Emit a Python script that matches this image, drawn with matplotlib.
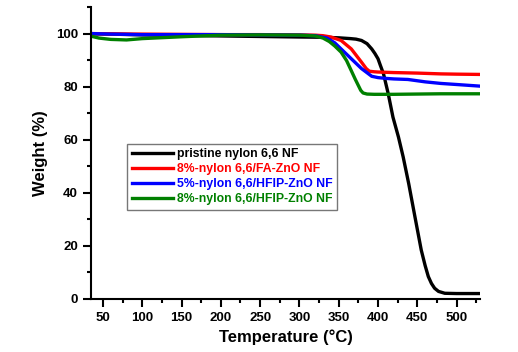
import matplotlib.pyplot as plt
from matplotlib.ticker import MultipleLocator
import numpy as np

# TGA curves (temperature in C, weight in %)
t_pristine = [35, 60, 100, 150, 200, 250, 300, 330, 350, 365, 372, 379, 386, 392, 396, 400, 403, 407, 413, 419, 426, 432, 439, 447, 455, 460, 464, 468, 472, 477, 485, 500, 529]
w_pristine = [99.9, 99.8, 99.5, 99.3, 99.1, 98.9, 98.7, 98.6, 98.4, 98.1, 97.9, 97.4, 96.2, 94.2, 92.5, 90.5, 88.0, 84.8, 77.3, 68.5, 61.0, 53.5, 43.5, 30.9, 18.4, 12.5, 8.4, 5.8, 4.0, 2.8, 2.1, 2.0, 2.0]

t_fa = [35, 60, 100, 150, 200, 250, 300, 320, 330, 340, 353, 366, 379, 385, 389, 395, 400, 420, 450, 480, 500, 529]
w_fa = [100, 99.9, 99.8, 99.7, 99.6, 99.6, 99.5, 99.4, 99.2, 98.7, 97.4, 94.2, 89.2, 86.8, 85.8, 85.6, 85.5, 85.3, 85.1, 84.8, 84.7, 84.6]

t_hfip5 = [35, 60, 100, 150, 200, 250, 300, 320, 335, 345, 353, 366, 379, 392, 400, 410, 420, 438, 460, 480, 500, 529]
w_hfip5 = [100, 99.8, 99.6, 99.6, 99.6, 99.5, 99.4, 99.2, 98.3, 96.5, 94.2, 90.5, 86.8, 83.9, 83.4, 83.1, 82.9, 82.7, 81.8, 81.2, 80.8, 80.2]

t_hfip8 = [35, 45, 60, 80, 100, 150, 200, 250, 300, 320, 330, 338, 345, 353, 360, 366, 371, 375, 378, 381, 386, 395, 420, 450, 480, 500, 529]
w_hfip8 = [99.0, 98.3, 97.8, 97.6, 98.1, 98.8, 99.4, 99.5, 99.4, 99.1, 98.3, 97.0, 95.3, 93.0, 89.8, 86.0, 82.8, 80.4, 78.6, 77.6, 77.2, 77.1, 77.1, 77.2, 77.3, 77.3, 77.3]

labels = ['pristine nylon 6,6 NF', '8%-nylon 6,6/FA-ZnO NF',
          '5%-nylon 6,6/HFIP-ZnO NF', '8%-nylon 6,6/HFIP-ZnO NF']
colors = ['black', '#ff0000', '#0000ff', '#008000']

plt.rcParams['font.family'] = ['Liberation Sans', 'DejaVu Sans']
plt.rcParams['font.weight'] = 'bold'

fig = plt.figure(figsize=(5.18, 3.52), dpi=100)
ax = fig.add_axes([0.176, 0.151, 0.751, 0.829])

series = [(t_pristine, w_pristine), (t_fa, w_fa), (t_hfip5, w_hfip5), (t_hfip8, w_hfip8)]
for (t, w), lab, c in zip(series, labels, colors):
    ax.plot(t, w, color=c, lw=2.4, label=lab)

ax.set_xlim(35, 530)
ax.set_ylim(0, 110)
ax.xaxis.set_major_locator(MultipleLocator(50))
ax.xaxis.set_minor_locator(MultipleLocator(25))
ax.yaxis.set_major_locator(MultipleLocator(20))
ax.yaxis.set_minor_locator(MultipleLocator(10))
ax.spines['top'].set_visible(False)
ax.spines['right'].set_visible(False)
for s in ['left', 'bottom']:
    ax.spines[s].set_linewidth(1.5)
ax.tick_params(which='major', length=6, width=1.5, labelsize=9.5)
ax.tick_params(which='minor', length=3, width=1.5)
for lbl in ax.get_xticklabels() + ax.get_yticklabels():
    lbl.set_fontweight('bold')

ax.set_xlabel('Temperature (\u00b0C)', fontsize=12, fontweight='bold', labelpad=4)
ax.set_ylabel('Weight (%)', fontsize=12, fontweight='bold', labelpad=6)

leg = ax.legend(loc='upper left', bbox_to_anchor=(0.093, 0.531), fontsize=8.8,
                handlelength=3.4, handletextpad=0.35, borderpad=0.35,
                labelspacing=0.25, borderaxespad=0, fancybox=False, framealpha=1)
leg.get_frame().set_edgecolor('#777777')
leg.get_frame().set_linewidth(1.0)
for txt, c in zip(leg.get_texts(), colors):
    txt.set_color(c)
    txt.set_fontweight('bold')

fig.savefig('out.png', dpi=100)
